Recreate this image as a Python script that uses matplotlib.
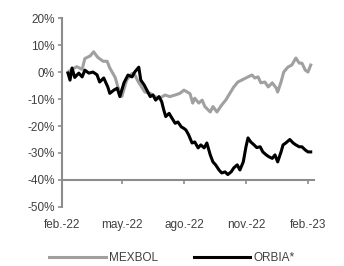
import matplotlib
matplotlib.use('Agg')
import matplotlib.pyplot as plt
import pandas as pd

plt.rcParams['font.family'] = ['Liberation Sans Narrow', 'Liberation Sans', 'DejaVu Sans']

# values (% change)
mexbol_dates = ['2022-02-10', '2022-02-16', '2022-02-23', '2022-03-03', '2022-03-07', '2022-03-15',
                '2022-03-20', '2022-03-26', '2022-04-03', '2022-04-09', '2022-04-13', '2022-04-21',
                '2022-04-25', '2022-05-01', '2022-05-08', '2022-05-16', '2022-05-20', '2022-05-25',
                '2022-06-04', '2022-06-12', '2022-06-19', '2022-06-26', '2022-07-04', '2022-07-11',
                '2022-07-19', '2022-07-26', '2022-08-01', '2022-08-10', '2022-08-14', '2022-08-17',
                '2022-08-23', '2022-08-28', '2022-09-01', '2022-09-09', '2022-09-13', '2022-09-19',
                '2022-09-26', '2022-10-02', '2022-10-08', '2022-10-14', '2022-10-20', '2022-11-04',
                '2022-11-10', '2022-11-14', '2022-11-19', '2022-11-23', '2022-11-29', '2022-12-04',
                '2022-12-10', '2022-12-16', '2022-12-18', '2022-12-23', '2022-12-27', '2023-01-02',
                '2023-01-08', '2023-01-14', '2023-01-19', '2023-01-23', '2023-01-28', '2023-02-01',
                '2023-02-05']
mexbol = [0.0, 1.0, 2.0, 1.0, 5.0, 6.0,
          7.5, 5.5, 4.0, 4.0, 1.5, -2.0,
          -5.5, -9.0, -3.0, -0.5, -1.0, -3.5,
          -7.4, -7.9, -9.1, -9.7, -8.5, -9.1,
          -8.5, -7.9, -6.7, -8.0, -11.5, -9.7,
          -11.5, -10.4, -12.8, -14.8, -12.8, -14.8,
          -12.2, -10.4, -7.9, -5.5, -3.7, -1.8,
          -1.1, -2.2, -1.8, -4.0, -3.7, -5.5,
          -4.0, -6.0, -7.4, -3.7, 0.0, 1.8,
          2.6, 5.2, 3.3, 3.3, 0.7, 0.0,
          2.6]

orbia_dates = ['2022-02-10', '2022-02-13', '2022-02-16', '2022-02-20', '2022-02-26', '2022-03-03',
               '2022-03-07', '2022-03-13', '2022-03-19', '2022-03-25', '2022-03-29', '2022-04-04',
               '2022-04-10', '2022-04-13', '2022-04-19', '2022-04-24', '2022-04-28', '2022-05-04',
               '2022-05-10', '2022-05-16', '2022-05-20', '2022-05-26', '2022-05-29', '2022-06-03',
               '2022-06-07', '2022-06-12', '2022-06-16', '2022-06-20', '2022-06-25', '2022-06-29',
               '2022-07-02', '2022-07-05', '2022-07-10', '2022-07-14', '2022-07-19', '2022-07-23',
               '2022-07-28', '2022-08-01', '2022-08-04', '2022-08-08', '2022-08-13', '2022-08-17',
               '2022-08-22', '2022-08-26', '2022-08-31', '2022-09-04', '2022-09-09', '2022-09-13',
               '2022-09-17', '2022-09-22', '2022-09-26', '2022-10-01', '2022-10-05', '2022-10-10',
               '2022-10-14', '2022-10-19', '2022-10-23', '2022-10-28', '2022-11-01', '2022-11-04',
               '2022-11-08', '2022-11-13', '2022-11-17', '2022-11-22', '2022-11-26', '2022-12-01',
               '2022-12-05', '2022-12-10', '2022-12-14', '2022-12-18', '2022-12-23', '2022-12-26',
               '2022-12-30', '2023-01-05', '2023-01-10', '2023-01-14', '2023-01-19', '2023-01-23',
               '2023-01-28', '2023-02-01', '2023-02-05']
orbia = [-0.4, -3.0, 1.5, -2.0, -0.4, -1.8,
         0.7, -0.4, 0.0, -1.0, -3.7, -2.2,
         -5.5, -7.9, -6.7, -6.0, -9.1, -4.0,
         -1.1, -1.8, 0.0, 1.8, -3.0, -4.8,
         -6.7, -9.1, -8.5, -10.4, -9.1, -11.0,
         -14.0, -16.5, -15.3, -17.0, -19.0, -18.5,
         -20.3, -20.9, -21.5, -23.3, -26.3, -25.9,
         -28.1, -27.0, -28.1, -26.3, -30.7, -33.3,
         -34.4, -36.3, -37.4, -37.0, -38.0, -37.0,
         -35.5, -34.4, -36.3, -33.3, -27.7, -24.4,
         -25.9, -27.0, -28.0, -27.7, -29.6, -30.7,
         -31.4, -32.0, -30.7, -33.3, -29.6, -27.0,
         -26.3, -25.0, -26.3, -27.0, -27.7, -27.7,
         -28.9, -29.6, -29.6]

tick_dates = ['2022-02-01', '2022-05-01', '2022-08-01', '2022-11-01', '2023-02-01']
tick_labels = ['feb.-22', 'may.-22', 'ago.-22', 'nov.-22', 'feb.-23']
y_ticks = [20, 10, 0, -10, -20, -30, -40, -50]

GRAY = '#a0a0a0'
AXIS = '#8c8c8c'
TEXT = '#404040'

fig = plt.figure(figsize=(3.44, 2.66), dpi=100)
ax = fig.add_axes([0.180, 0.222, 0.733, 0.71])

ax.plot(pd.to_datetime(mexbol_dates), mexbol, color=GRAY, lw=2.2, label='MEXBOL')
ax.plot(pd.to_datetime(orbia_dates), orbia, color='black', lw=2.2, label='ORBIA*')

ax.set_ylim(-50, 20)
ax.set_xlim(pd.Timestamp('2022-02-01'), pd.Timestamp('2023-02-10'))
ax.set_yticks(y_ticks)
ax.set_yticklabels([f'{v}%' for v in y_ticks])
ax.set_xticks(pd.to_datetime(tick_dates))
ax.set_xticklabels(tick_labels)

for s in ['top', 'right']:
    ax.spines[s].set_visible(False)
# the date axis crosses at -40%
ax.spines['bottom'].set_position(('data', -40))
for s in ['left', 'bottom']:
    ax.spines[s].set_color(AXIS)
    ax.spines[s].set_linewidth(1.5)

ax.tick_params(axis='y', direction='out', length=3, width=1.2, color=AXIS,
               labelcolor=TEXT, labelsize=8.5, pad=2)
ax.tick_params(axis='x', direction='out', length=3, width=1.2, color=AXIS,
               labelcolor=TEXT, labelsize=8.5, pad=25)

fig.legend(loc='center', bbox_to_anchor=(0.5, 0.03), ncol=2, frameon=False,
           handlelength=4.8, columnspacing=3.0, handletextpad=0.3,
           prop={'size': 8.5}, labelcolor=TEXT)

plt.savefig('out.png', dpi=100)
